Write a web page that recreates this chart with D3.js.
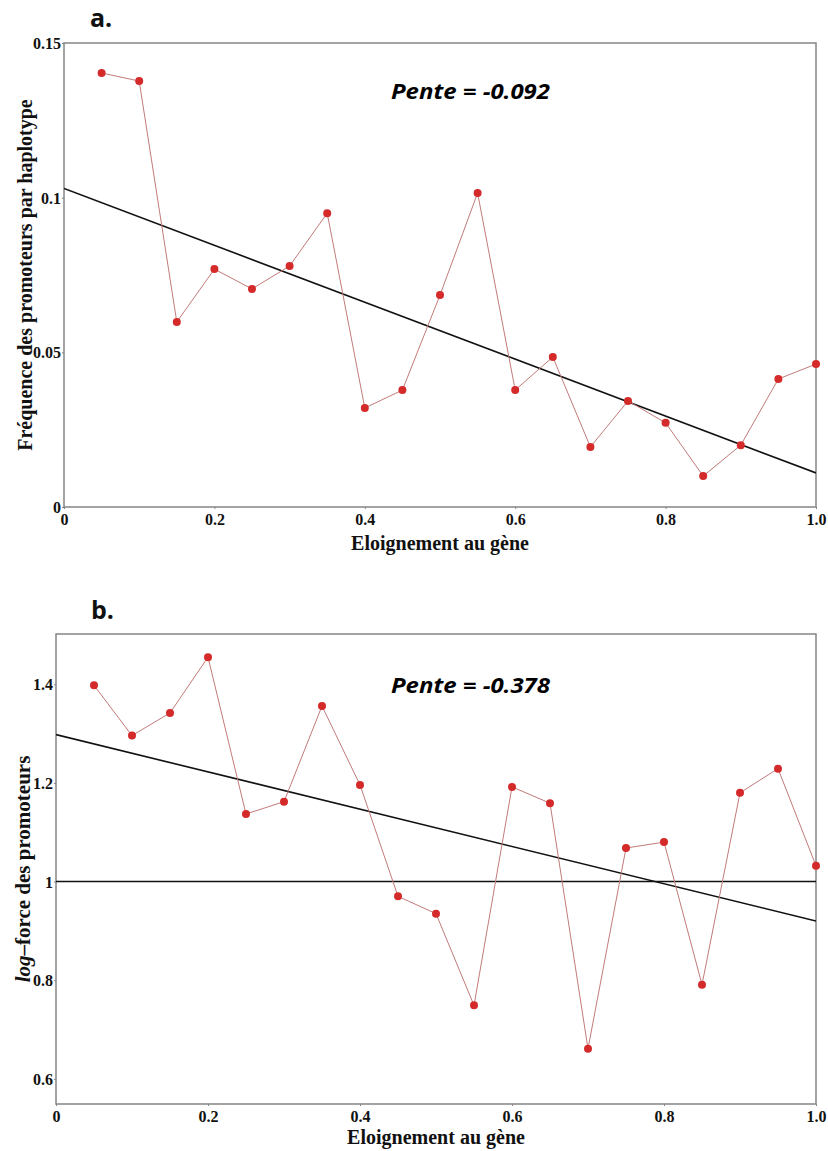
<!DOCTYPE html>
<html>
<head>
<meta charset="utf-8">
<script src="https://cdn.jsdelivr.net/npm/d3@7"></script>
<style>
  html, body { margin: 0; padding: 0; background: #fff; }
  svg { display: block; }
  .tick text { font-family: "Liberation Serif", "Times New Roman", serif; font-weight: bold; font-size: 16px; fill: #111; }
  .axis-title { font-family: "Liberation Serif", "Times New Roman", serif; font-weight: bold; font-size: 20px; fill: #111; }
  .panel-tag { font-family: "Open Sans", "Liberation Sans", sans-serif; font-weight: bold; font-size: 25px; fill: #111; }
  .slope { font-family: "Open Sans", "Liberation Sans", sans-serif; font-weight: bold; font-style: italic; font-size: 21px; fill: #000; }
</style>
</head>
<body>
<script>
// Distance bins (fraction of the distance to the gene)
const distances = [0.05, 0.10, 0.15, 0.20, 0.25, 0.30, 0.35, 0.40, 0.45, 0.50,
                   0.55, 0.60, 0.65, 0.70, 0.75, 0.80, 0.85, 0.90, 0.95, 1.00];

// a. promoter frequency per haplotype
const frequence = [0.1403, 0.1377, 0.0598, 0.0769, 0.0705, 0.0779, 0.0950, 0.0320, 0.0378, 0.0685,
                   0.1015, 0.0378, 0.0485, 0.0194, 0.0343, 0.0272, 0.0100, 0.0200, 0.0414, 0.0462];

// b. log-strength of promoters
const logForce = [1.398, 1.296, 1.342, 1.455, 1.137, 1.162, 1.356, 1.196, 0.970, 0.935,
                  0.749, 1.192, 1.159, 0.661, 1.068, 1.080, 0.791, 1.180, 1.229, 1.032];

// Fitted lines: [intercept, slope]
const fitA = [0.103, -0.092];
const fitB = [1.298, -0.378];

// Tick values and labels
const xTicks = [0, 0.2, 0.4, 0.6, 0.8, 1.0];
const xTickLabels = ["0", "0.2", "0.4", "0.6", "0.8", "1.0"];
const yTicksA = [0, 0.05, 0.1, 0.15];
const yTickLabelsA = ["0", "0.05", "0.1", "0.15"];
const yTicksB = [0.6, 0.8, 1.0, 1.2, 1.4];
const yTickLabelsB = ["0.6", "0.8", "1", "1.2", "1.4"];

const W = 828, H = 1151;
const svg = d3.select("body").append("svg").attr("width", W).attr("height", H);

function panel(cfg) {
  const x = d3.scaleLinear().domain([0, 1]).range([cfg.left, cfg.right]);
  const y = d3.scaleLinear().domain(cfg.yDomain).range([cfg.bottom, cfg.top]);
  const g = svg.append("g");

  const clipId = "clip-" + cfg.id;
  g.append("clipPath").attr("id", clipId)
    .append("rect")
    .attr("x", cfg.left).attr("y", cfg.top)
    .attr("width", cfg.right - cfg.left).attr("height", cfg.bottom - cfg.top);

  // Frame
  g.append("rect")
    .attr("x", cfg.left).attr("y", cfg.top)
    .attr("width", cfg.right - cfg.left).attr("height", cfg.bottom - cfg.top)
    .attr("fill", "none").attr("stroke", "#858585").attr("stroke-width", 1.5);

  // Axes
  const xAxis = d3.axisBottom(x).tickValues(xTicks)
    .tickFormat((d, i) => xTickLabels[i]).tickSize(2).tickPadding(5);
  const gx = g.append("g").attr("transform", `translate(0,${cfg.bottom})`).call(xAxis);
  gx.select(".domain").remove();
  gx.selectAll(".tick line").attr("stroke", "#858585");

  const yAxis = d3.axisLeft(y).tickValues(cfg.yTicks)
    .tickFormat((d, i) => cfg.yTickLabels[i]).tickSize(2).tickPadding(1);
  const gy = g.append("g").attr("transform", `translate(${cfg.left},0)`).call(yAxis);
  gy.select(".domain").remove();
  gy.selectAll(".tick line").attr("stroke", "#858585");
  gy.selectAll(".tick text").attr("dy", "0.35em");

  const plot = g.append("g").attr("clip-path", `url(#${clipId})`);

  // Reference line (panel b)
  if (cfg.refLine !== undefined) {
    plot.append("line")
      .attr("x1", x(0)).attr("x2", x(1))
      .attr("y1", y(cfg.refLine)).attr("y2", y(cfg.refLine))
      .attr("stroke", "#111").attr("stroke-width", 1.5);
  }

  // Fitted line
  const fit = cfg.fit;
  plot.append("line")
    .attr("x1", x(0)).attr("y1", y(fit[0]))
    .attr("x2", x(1)).attr("y2", y(fit[0] + fit[1]))
    .attr("stroke", "#111").attr("stroke-width", 1.6);

  // Data line and points
  const line = d3.line().x((d, i) => x(distances[i])).y(d => y(d));
  g.append("path").datum(cfg.values)
    .attr("d", line).attr("fill", "none")
    .attr("stroke", "#c27a7a").attr("stroke-width", 1);

  g.selectAll("circle.pt").data(cfg.values).join("circle")
    .attr("class", "pt")
    .attr("cx", (d, i) => x(distances[i])).attr("cy", d => y(d))
    .attr("r", 4).attr("fill", "#d42a2a");

  // Panel tag
  g.append("text").attr("class", "panel-tag")
    .attr("x", cfg.tagX).attr("y", cfg.tagY).text(cfg.tag);

  // Slope annotation
  g.append("text").attr("class", "slope")
    .attr("x", 391).attr("y", cfg.slopeY)
    .attr("textLength", 159).attr("lengthAdjust", "spacingAndGlyphs")
    .text("Pente = " + d3.format(".3f")(fit[1]).replace("−", "-"));

  // X title
  g.append("text").attr("class", "axis-title")
    .attr("x", cfg.xTitleX).attr("y", cfg.xTitleY)
    .attr("text-anchor", "middle").text("Eloignement au gène");

  // Y title
  const yt = g.append("text").attr("class", "axis-title")
    .attr("transform", `translate(${cfg.yTitleX},${(cfg.top + cfg.bottom) / 2}) rotate(-90)`)
    .attr("text-anchor", "middle")
    .style("font-size", cfg.yTitleSize + "px");
  cfg.yTitle(yt);
}

panel({
  id: "a", left: 64, right: 816, top: 43, bottom: 507,
  yDomain: [0, 0.15], yTicks: yTicksA, yTickLabels: yTickLabelsA,
  values: frequence, fit: fitA,
  tag: "a.", tagX: 90, tagY: 27, slopeY: 99,
  xTitleX: 440, xTitleY: 550, yTitleX: 32, yTitleSize: 20,
  yTitle: t => t.text("Fréquence des promoteurs par haplotype")
});

panel({
  id: "b", left: 56, right: 816, top: 634, bottom: 1104,
  yDomain: [0.549, 1.502], yTicks: yTicksB, yTickLabels: yTickLabelsB,
  values: logForce, fit: fitB, refLine: 1.0,
  tag: "b.", tagX: 91, tagY: 619, slopeY: 693,
  xTitleX: 436, xTitleY: 1144, yTitleX: 30, yTitleSize: 21,
  yTitle: t => {
    t.append("tspan").attr("font-style", "italic").text("log");
    t.append("tspan").text("\u2013force des promoteurs");
  }
});
</script>
</body>
</html>
